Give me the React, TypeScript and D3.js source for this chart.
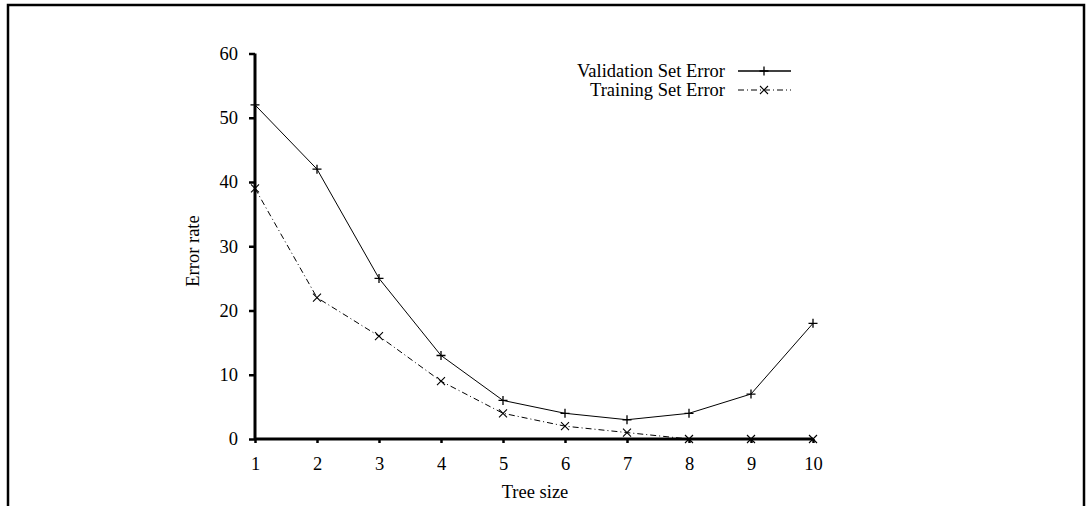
import { useEffect, useRef } from "react";
import * as d3 from "d3";

// tree sizes on the x axis
const treeSizes = [1, 2, 3, 4, 5, 6, 7, 8, 9, 10];
// error rates
const validationError = [52, 42, 25, 13, 6, 4, 3, 4, 7, 18];
const trainingError = [39, 22, 16, 9, 4, 2, 1, 0, 0, 0];
const yTicks = [0, 10, 20, 30, 40, 50, 60];
const seriesNames = ["Validation Set Error", "Training Set Error"];

export default function App() {
  const svgRef = useRef<SVGSVGElement>(null);

  useEffect(() => {
    const width = 1088;
    const height = 506;
    const font = "'Liberation Serif', 'Times New Roman', serif";
    const fontSize = 18.5;
    const svg = d3.select(svgRef.current).attr("width", width).attr("height", height);
    svg.selectAll("*").remove();

    // outer frame, open at the bottom
    svg
      .append("path")
      .attr("d", `M8,${height} L8,5 L1084,5 L1084,${height}`)
      .attr("fill", "none")
      .attr("stroke", "black")
      .attr("stroke-width", 2.5);

    // scales
    const xScale = d3.scaleLinear().domain([1, 10]).range([255, 813]);
    const yScale = d3.scaleLinear().domain([0, 60]).range([439, 53.5]);

    // axes
    const xAxis = d3.axisBottom(xScale).tickValues(treeSizes).tickSize(4).tickPadding(14).tickFormat(d3.format("d"));
    const yAxis = d3.axisLeft(yScale).tickValues(yTicks).tickSize(6).tickPadding(11);

    const gx = svg.append("g").attr("transform", `translate(0,${yScale(0)})`).call(xAxis);
    const gy = svg.append("g").attr("transform", `translate(${xScale(1)},0)`).call(yAxis);
    for (const g of [gx, gy]) {
      g.select(".domain").attr("stroke-width", 3);
      g.selectAll(".tick line").attr("stroke-width", 2.5);
      g.selectAll(".tick text")
        .attr("font-family", font)
        .attr("font-size", fontSize)
        .attr("fill", "black");
    }
    gx.select(".domain").attr("d", `M${xScale(1)},0H${xScale(10)}`);
    gy.select(".domain").attr("d", `M0,${yScale(60)}V${yScale(0)}`);

    // axis titles
    svg
      .append("text")
      .attr("x", 535)
      .attr("y", 498)
      .attr("text-anchor", "middle")
      .attr("font-family", font)
      .attr("font-size", fontSize)
      .text("Tree size");
    svg
      .append("text")
      .attr("transform", `translate(199,251) rotate(-90)`)
      .attr("text-anchor", "middle")
      .attr("font-family", font)
      .attr("font-size", fontSize)
      .text("Error rate");

    const line = d3
      .line<number>()
      .x((_, i) => xScale(treeSizes[i]))
      .y((d) => yScale(d));

    const plus = (g: any, x: number, y: number) => {
      g.append("path")
        .attr("d", `M${x - 4.5},${y}H${x + 4.5}M${x},${y - 4.5}V${y + 4.5}`)
        .attr("stroke", "black")
        .attr("stroke-width", 1.3);
    };
    const cross = (g: any, x: number, y: number) => {
      g.append("path")
        .attr("d", `M${x - 4},${y - 4}L${x + 4},${y + 4}M${x - 4},${y + 4}L${x + 4},${y - 4}`)
        .attr("stroke", "black")
        .attr("stroke-width", 1.1);
    };

    // validation line
    svg
      .append("path")
      .datum(validationError)
      .attr("d", line)
      .attr("fill", "none")
      .attr("stroke", "black")
      .attr("stroke-width", 1);
    const gv = svg.append("g");
    validationError.forEach((d, i) => plus(gv, xScale(treeSizes[i]), yScale(d)));

    // training line
    svg
      .append("path")
      .datum(trainingError)
      .attr("d", line)
      .attr("fill", "none")
      .attr("stroke", "black")
      .attr("stroke-width", 1)
      .attr("stroke-dasharray", "6,3,1,3");
    const gt = svg.append("g");
    trainingError.forEach((d, i) => cross(gt, xScale(treeSizes[i]), yScale(d)));

    // legend
    const legendRows = [71, 90];
    seriesNames.forEach((name, i) => {
      const y = legendRows[i];
      svg
        .append("text")
        .attr("x", 725)
        .attr("y", y + 6)
        .attr("text-anchor", "end")
        .attr("font-family", font)
        .attr("font-size", fontSize)
        .text(name);
      svg
        .append("line")
        .attr("x1", 738)
        .attr("x2", 791)
        .attr("y1", y)
        .attr("y2", y)
        .attr("stroke", "black")
        .attr("stroke-width", i === 0 ? 1.3 : 1)
        .attr("stroke-dasharray", i === 0 ? null : "6,3,1,3");
      if (i === 0) plus(svg, 764, y);
      else cross(svg, 764, y);
    });
  }, []);

  return (
    <svg
      ref={svgRef}
      style={{ position: "absolute", left: 0, top: 0, background: "white" }}
    ></svg>
  );
}
